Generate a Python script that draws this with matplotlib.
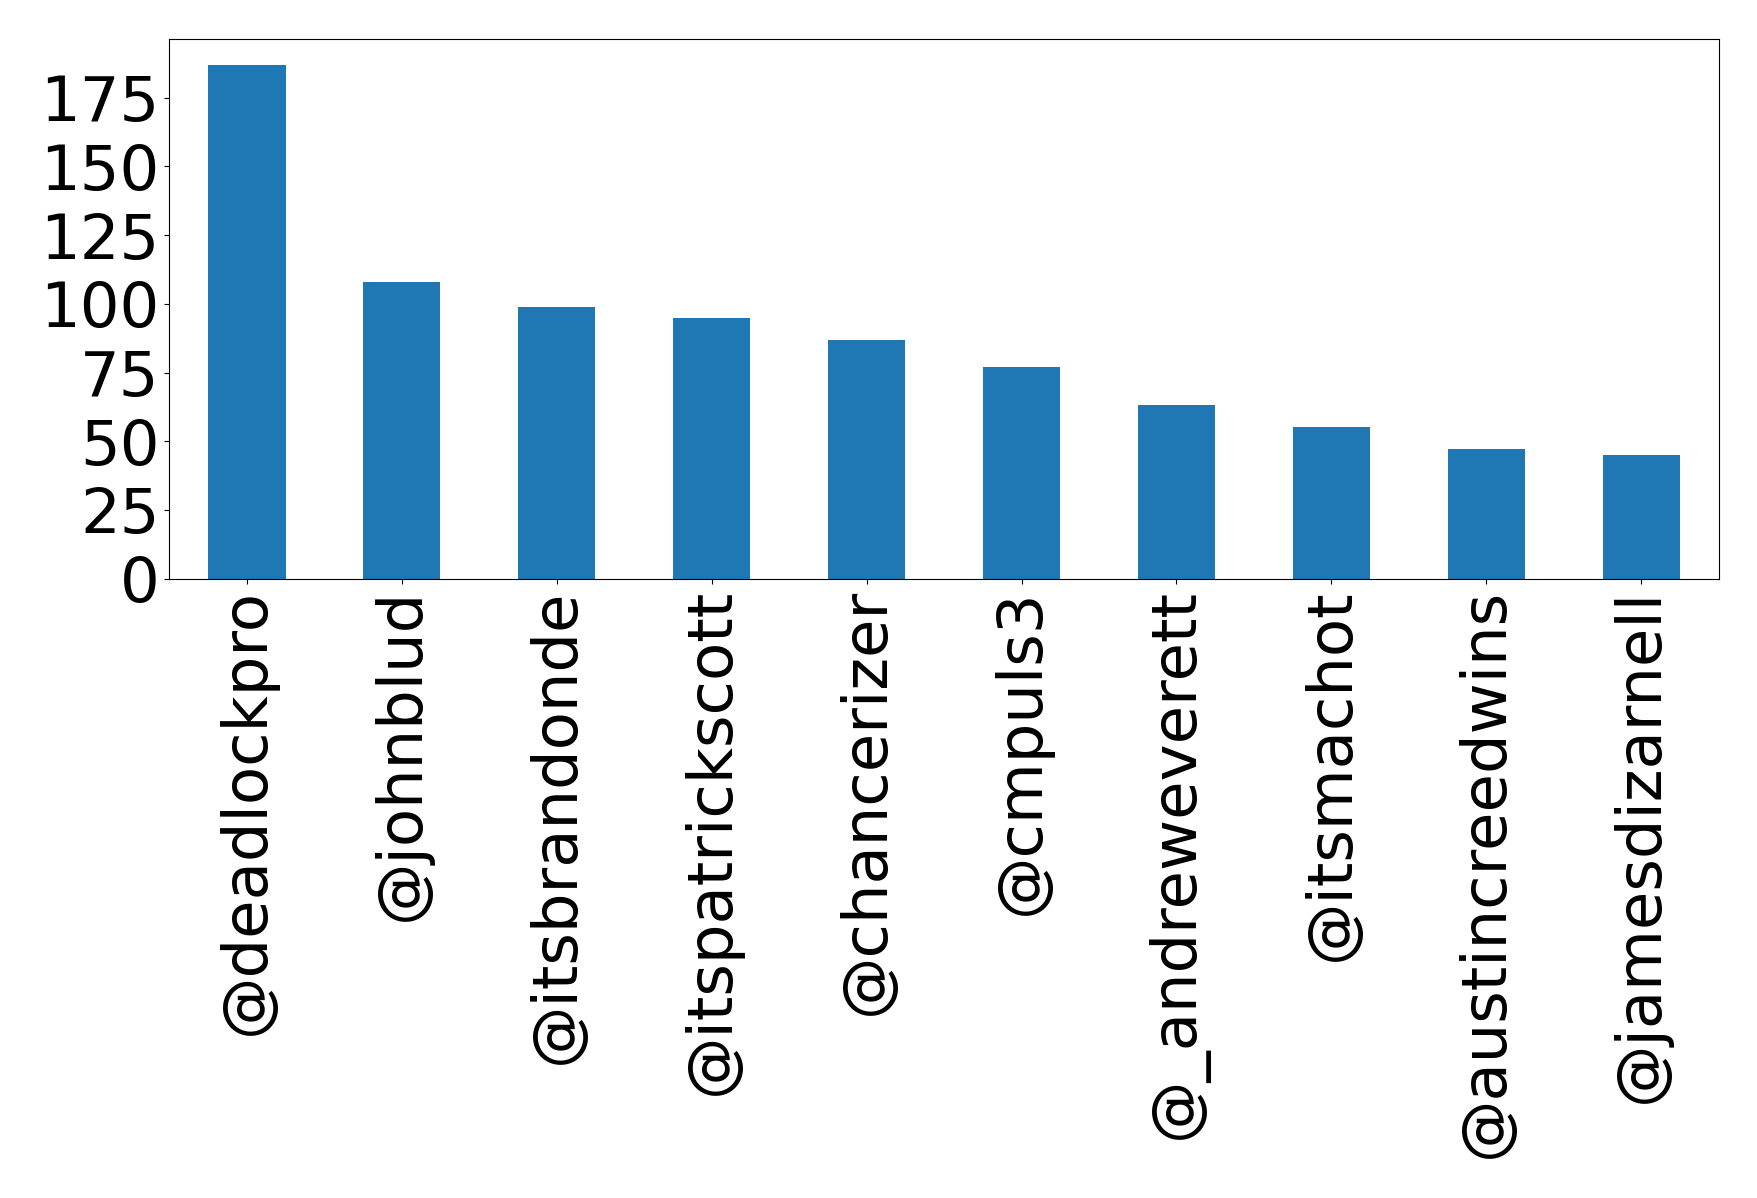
import matplotlib
matplotlib.use("Agg")
import matplotlib.pyplot as plt

users = ["@deadlockpro", "@johnblud", "@itsbrandonde", "@itspatrickscott", "@chancerizer",
         "@cmpuls3", "@_andreweverett", "@itsmachot", "@austincreedwins", "@jamesdizarnell"]
counts = [187, 108, 99, 95, 87, 77, 63, 55, 47, 45]

fig = plt.figure(figsize=(17.58, 11.98), dpi=100)
ax = fig.add_axes([0.0963, 0.5171, 0.9777 - 0.0963, 0.9673 - 0.5171])
x = list(range(len(users)))
ax.bar(x, counts, width=0.5, color="#1f77b4")
ax.set_xlim(-0.5, len(users) - 0.5)
ax.set_xticks(x)
ax.set_xticklabels(users, rotation=90, fontsize=45)
ax.set_yticks([0, 25, 50, 75, 100, 125, 150, 175])
ax.tick_params(axis="y", labelsize=45)
fig.savefig("out.png", dpi=100)
